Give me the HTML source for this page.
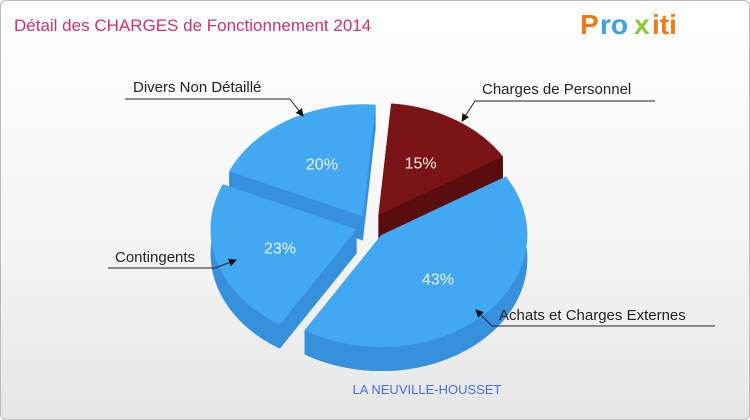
<!DOCTYPE html>
<html><head><meta charset="utf-8">
<style>
html,body{margin:0;padding:0;}
body{width:750px;height:420px;overflow:hidden;font-family:"Liberation Sans","DejaVu Sans",sans-serif;}
#frame{position:absolute;left:0;top:0;width:748px;height:418px;border:1px solid #bbb;border-radius:6px;background:linear-gradient(#ffffff 0%,#f4f4f4 60%,#e6e6e6 100%);}
</style></head>
<body>
<div id="frame"></div>
<svg id="chart" width="750" height="420" style="position:absolute;left:0;top:0">
<text x="14" y="31" font-size="17" fill="#c8336e">Détail des CHARGES de Fonctionnement 2014</text>
<g font-size="28" font-weight="bold">
<text x="580" y="34" fill="#f07a1a">P</text><text x="600" y="34" fill="#3aa0e0">ro</text><text x="634" y="34" fill="#8cc83c">x</text><text x="652" y="34" fill="#f07a1a">iti</text>
</g>
<g id="slices"></g>
<text x="427" y="394" font-size="13" fill="#4a6fd8" text-anchor="middle">LA NEUVILLE-HOUSSET</text>
<defs><marker id="ah" markerWidth="8" markerHeight="8" refX="7" refY="4" orient="auto"><path d="M0,0 L8,4 L0,8 z" fill="#111"/></marker></defs>
<g font-size="15" fill="#222">
<text x="482" y="94">Charges de Personnel</text>
<path d="M655,101 L475,101 L462,121" stroke="#222" fill="none" marker-end="url(#ah)"/>
<text x="133" y="92">Divers Non Détaillé</text>
<path d="M125,99 L290,99 L303,116" stroke="#222" fill="none" marker-end="url(#ah)"/>
<text x="115" y="262">Contingents</text>
<path d="M108,268 L215,268 L236,260" stroke="#222" fill="none" marker-end="url(#ah)"/>
<text x="499" y="320">Achats et Charges Externes</text>
<path d="M715,326 L492,326 L476,310" stroke="#222" fill="none" marker-end="url(#ah)"/>
</g>
</svg>
<script>
const categories=["Charges de Personnel","Achats et Charges Externes","Contingents","Divers Non Détaillé"];
const values=[15,43,23,20];
const pctLabels=["15%","43%","23%","20%"];
const NS="http://www.w3.org/2000/svg";
const cx=370,cy=226,rx=146,ry=112,depth=24,rot=5*Math.PI/180;
const explode=[16,16,14,14];
const topCol=["#7b1416","#42a8f2","#42a8f2","#42a8f2"];
const sideCol=["#5a0d0f","#3790dc","#3790dc","#3790dc"];
const g=document.getElementById('slices');
const total=values.reduce((a,b)=>a+b,0);
function pt(ox,oy,a,dy){return [ox+rx*Math.sin(a),oy-ry*Math.cos(a)+(dy||0)];}
function mk(d,fill,name){const p=document.createElementNS(NS,'path');p.setAttribute('d',d);p.setAttribute('fill',fill);


g.appendChild(p);return p;}
let start=0;const sl=[];
values.forEach((v,i)=>{const a0=rot+start*2*Math.PI/total;start+=v;const a1=rot+start*2*Math.PI/total;
const m=(a0+a1)/2;const ox=cx+explode[i]*Math.sin(m),oy=cy-explode[i]*0.8*Math.cos(m);sl.push({i,a0,a1,m,ox,oy});});
function arc(s,dy,n){const a=[];for(let k=0;k<=n;k++){const t=s.a0+(s.a1-s.a0)*k/n;a.push(pt(s.ox,s.oy,t,dy));}return a;}
sl.forEach(s=>{
 const top=arc(s,0,60),bot=arc(s,depth,60);
 let d='M'+s.ox+','+(s.oy+depth)+' '+bot.map(p=>'L'+p[0]+','+p[1]).join(' ')+' Z';
 mk(d,sideCol[s.i],'slice-bottom-'+s.i);
 d='M'+top.map(p=>p[0]+','+p[1]).join(' L')+' L'+bot.slice().reverse().map(p=>p[0]+','+p[1]).join(' L')+' Z';
 mk(d,sideCol[s.i],'slice-wall-'+s.i);
 [[s.a0],[s.a1]].forEach(([a])=>{const p=pt(s.ox,s.oy,a);
  mk(`M${s.ox},${s.oy} L${p[0]},${p[1]} L${p[0]},${p[1]+depth} L${s.ox},${s.oy+depth} Z`,sideCol[s.i],'slice-edge-'+s.i);});
});
sl.forEach(s=>{const top=arc(s,0,60);
 mk('M'+s.ox+','+s.oy+' '+top.map(p=>'L'+p[0]+','+p[1]).join(' ')+' Z',topCol[s.i],'slice-'+categories[s.i].toLowerCase().replace(/[^a-z]+/g,'-'));
 const lp=[s.ox+rx*0.55*Math.sin(s.m),s.oy-ry*0.55*Math.cos(s.m)];
 const t=document.createElementNS(NS,'text');t.setAttribute('x',lp[0]);t.setAttribute('y',lp[1]+6);t.setAttribute('text-anchor','middle');
 t.setAttribute('font-size','16');t.setAttribute('fill','#f0f0f0');t.textContent=pctLabels[s.i];
 
 
 g.appendChild(t);});
</script>
</body></html>
